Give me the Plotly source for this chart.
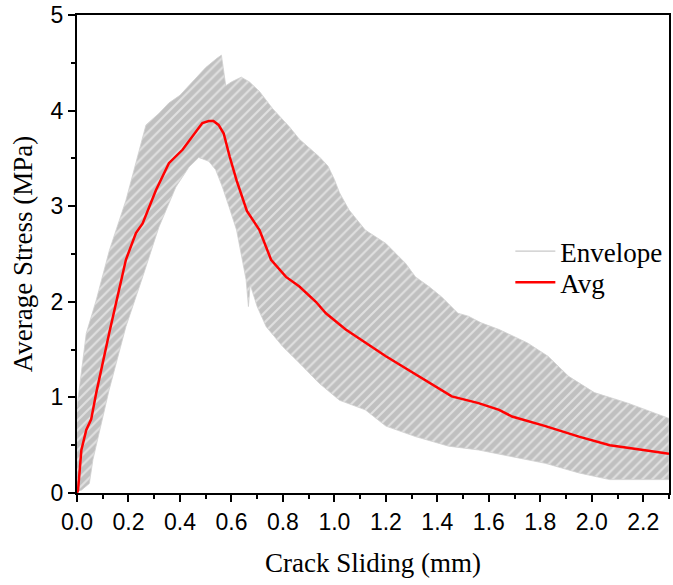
import plotly.graph_objects as go

# Upper envelope (x, MPa)
upper_x = [0.0, 0.005, 0.036, 0.075, 0.126, 0.19, 0.242, 0.268, 0.318, 0.357, 0.40, 0.45, 0.50,
           0.545, 0.561, 0.568, 0.578, 0.60, 0.638, 0.67, 0.709, 0.76, 0.825, 0.864, 0.94, 0.975,
           1.0, 1.02, 1.057, 1.12, 1.2, 1.277, 1.315, 1.367, 1.417, 1.48, 1.52, 1.57, 1.64,
           1.75, 1.83, 1.91, 2.01, 2.14, 2.28, 2.3]
upper_y = [0.9, 1.0, 1.67, 2.02, 2.54, 3.06, 3.59, 3.85, 3.97, 4.08, 4.16, 4.30, 4.45,
           4.55, 4.58, 4.45, 4.26, 4.30, 4.35, 4.30, 4.20, 4.02, 3.83, 3.70, 3.52, 3.42,
           3.28, 3.14, 2.96, 2.75, 2.61, 2.40, 2.26, 2.16, 2.05, 1.88, 1.85, 1.78, 1.71,
           1.57, 1.43, 1.22, 1.05, 0.94, 0.80, 0.78]

# Lower envelope (x, MPa)
lower_x = [0.0, 0.017, 0.048, 0.062, 0.125, 0.19, 0.255, 0.318, 0.384, 0.435, 0.473, 0.512,
           0.539, 0.565, 0.59, 0.62, 0.657, 0.666, 0.673, 0.70, 0.735, 0.80, 0.864, 0.94,
           1.02, 1.12, 1.2, 1.315, 1.444, 1.56, 1.69, 1.82, 1.95, 2.07, 2.2, 2.3]
lower_y = [0.02, 0.03, 0.10, 0.35, 1.08, 1.74, 2.26, 2.78, 3.20, 3.41, 3.51, 3.47,
           3.38, 3.20, 3.0, 2.75, 2.23, 1.95, 2.18, 1.95, 1.74, 1.53, 1.36, 1.15,
           0.97, 0.87, 0.70, 0.59, 0.49, 0.45, 0.38, 0.31, 0.21, 0.14, 0.14, 0.14]

# Average curve
avg_x = [0.0, 0.004, 0.017, 0.036, 0.055, 0.075, 0.125, 0.19, 0.229, 0.255, 0.307, 0.357,
         0.41, 0.449, 0.487, 0.512, 0.53, 0.55, 0.57, 0.593, 0.62, 0.66, 0.709, 0.754, 0.812,
         0.864, 0.928, 0.967, 1.044, 1.2, 1.354, 1.456, 1.56, 1.64, 1.69, 1.82, 1.95, 2.07,
         2.2, 2.3]
avg_y = [0.0, 0.03, 0.45, 0.66, 0.77, 1.05, 1.67, 2.44, 2.72, 2.82, 3.17, 3.45,
         3.59, 3.73, 3.87, 3.89, 3.89, 3.85, 3.76, 3.52, 3.27, 2.95, 2.75, 2.44, 2.26,
         2.16, 2.0, 1.88, 1.71, 1.43, 1.18, 1.01, 0.94, 0.87, 0.80, 0.70, 0.59, 0.50,
         0.45, 0.41]

x_ticks = [0.0, 0.2, 0.4, 0.6, 0.8, 1.0, 1.2, 1.4, 1.6, 1.8, 2.0, 2.2]
y_ticks = [0, 1, 2, 3, 4, 5]

poly_x = upper_x + lower_x[::-1]
poly_y = upper_y + lower_y[::-1]

serif = "Liberation Serif, Times New Roman"
sans = "Liberation Sans, Arial"

fig = go.Figure()
fig.add_trace(go.Scatter(
    x=poly_x, y=poly_y, mode="lines", fill="toself",
    fillcolor="#c0c0c0",
    fillpattern=dict(shape="/", bgcolor="#c0c0c0", fgcolor="#ffffff", size=7, solidity=0.3),
    line=dict(color="#cfcfcf", width=0.8),
    showlegend=False, hoverinfo="skip"))
fig.add_trace(go.Scatter(
    x=[None], y=[None], mode="lines", name="Envelope", legend="legend",
    line=dict(color="#c8c8c8", width=1.2)))
fig.add_trace(go.Scatter(
    x=avg_x, y=avg_y, mode="lines", name="Avg", legend="legend2",
    line=dict(color="#ff0000", width=2.5)))

axis_common = dict(
    showline=True, linecolor="black", linewidth=2, mirror=True,
    ticks="outside", ticklen=7, tickwidth=1.5, tickcolor="black",
    showgrid=False, zeroline=False, automargin=False,
    tickfont=dict(family=sans, size=23, color="black"),
)
fig.update_xaxes(range=[0, 2.3], tickvals=x_ticks, tickformat=".1f",
                 minor=dict(dtick=0.1, ticklen=4, tickwidth=1.5, tickcolor="black", ticks="outside"),
                 title=dict(text="Crack Sliding (mm)", standoff=20,
                            font=dict(family=serif, size=27, color="black")),
                 **axis_common)
fig.update_yaxes(range=[0, 5], tickvals=y_ticks,
                 minor=dict(dtick=0.5, ticklen=4, tickwidth=1.5, tickcolor="black", ticks="outside"),
                 title=dict(text="Average Stress (MPa)", standoff=10,
                            font=dict(family=serif, size=27, color="black")),
                 **axis_common)

leg_common = dict(xanchor="left", yanchor="middle", bgcolor="rgba(0,0,0,0)",
                  font=dict(family=serif, size=27, color="black"), itemwidth=40)
fig.update_layout(
    width=673, height=585,
    margin=dict(l=77, r=4, t=15, b=92),
    paper_bgcolor="white", plot_bgcolor="white",
    legend=dict(x=0.732, y=0.505, **leg_common),
    legend2=dict(x=0.732, y=0.44, **leg_common),
)

fig.write_html("out.html",
               config={"displayModeBar": False},
               post_script="document.body.style.margin='0px';document.body.style.overflow='hidden';")
